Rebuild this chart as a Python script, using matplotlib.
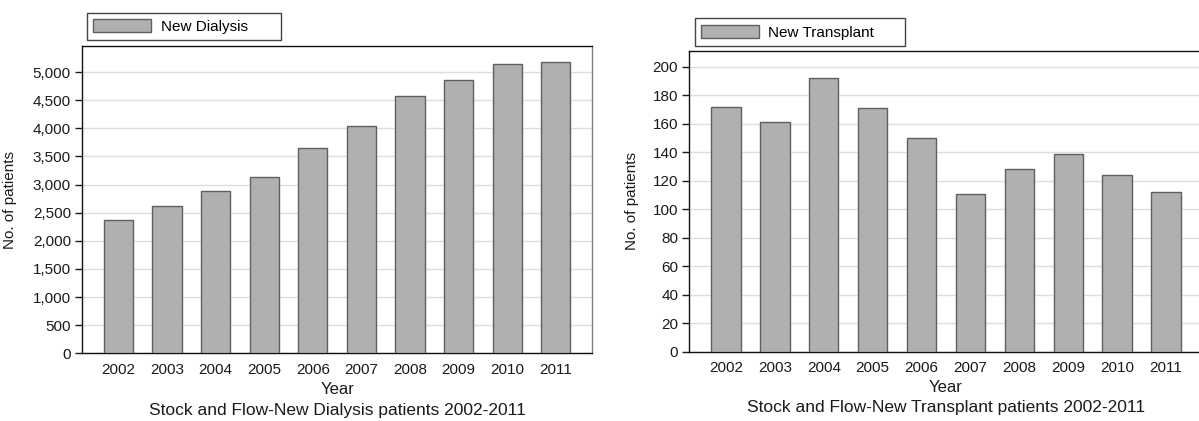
import matplotlib

matplotlib.use("Agg")
import matplotlib.pyplot as plt
from matplotlib.ticker import StrMethodFormatter


YEARS = ["2002", "2003", "2004", "2005", "2006", "2007", "2008", "2009", "2010", "2011"]
NEW_DIALYSIS = [2364, 2624, 2890, 3128, 3654, 4046, 4573, 4852, 5143, 5183]
NEW_TRANSPLANT = [172, 161, 192, 171, 150, 111, 128, 139, 124, 112]

DIALYSIS_TICKS = list(range(0, 5001, 500))
TRANSPLANT_TICKS = list(range(0, 201, 20))

BAR_COLOR = "#b0b0b0"
BAR_EDGE = "#5f5f5f"
GRID_COLOR = "#dedede"

plt.rcParams["font.family"] = ["Liberation Sans", "DejaVu Sans"]
plt.rcParams["font.size"] = 11


def draw_panel(fig, rect, values, ticks, ymax, label, title, legend_box, ylabel_x, fmt):
    ax = fig.add_axes(rect)
    x = list(range(len(YEARS)))
    ax.bar(x, values, width=0.6, color=BAR_COLOR, edgecolor=BAR_EDGE, linewidth=1.0,
           label=label, zorder=3)
    ax.set_xlim(-0.75, 9.75)
    ax.set_ylim(0, ymax)
    ax.set_xticks(x)
    ax.set_xticklabels(YEARS)
    ax.set_yticks(ticks)
    ax.yaxis.set_major_formatter(StrMethodFormatter(fmt))
    ax.tick_params(axis="x", length=0, pad=7, colors="#1a1a1a")
    ax.tick_params(axis="y", length=5, width=1.0, pad=3, colors="#1a1a1a")
    ax.grid(axis="y", color=GRID_COLOR, linewidth=1.0, zorder=0)
    ax.set_axisbelow(True)
    for side in ("left", "bottom", "top"):
        ax.spines[side].set_color("#111111")
        ax.spines[side].set_linewidth(1.0)
    ax.spines["right"].set_color("#808080")
    ax.spines["right"].set_linewidth(1.0)

    ax.set_ylabel("No. of patients", color="#1a1a1a")
    ax.yaxis.set_label_coords(ylabel_x, 0.5)
    ax.set_xlabel("Year", color="#1a1a1a", fontsize=12)
    ax.xaxis.set_label_coords(0.5, -0.118)
    ax.xaxis.label.set_va("center")
    ax.text(0.5, -0.187, title, transform=ax.transAxes, ha="center", va="center",
            color="#1a1a1a", fontsize=12.5)

    leg = ax.legend(loc="lower left", bbox_to_anchor=legend_box, bbox_transform=fig.transFigure,
                    mode="expand", borderaxespad=0, fancybox=False, framealpha=1,
                    handlelength=3.8, handleheight=1.0, handletextpad=0.6, borderpad=0.4)
    leg.get_frame().set_edgecolor("#444444")
    leg.get_frame().set_linewidth(1.0)
    return ax


fig = plt.figure(figsize=(11.99, 4.21), dpi=100)

draw_panel(fig, [0.0684, 0.1608, 0.4256, 0.7306], NEW_DIALYSIS, DIALYSIS_TICKS, 5470,
           "New Dialysis", "Stock and Flow-New Dialysis patients 2002-2011",
           (0.0728, 0.905, 0.1616, 0.05), -0.127, "{x:,.0f}")
draw_panel(fig, [0.5749, 0.1646, 0.4282, 0.7143], NEW_TRANSPLANT, TRANSPLANT_TICKS, 211,
           "New Transplant", "Stock and Flow-New Transplant patients 2002-2011",
           (0.5797, 0.8914, 0.1751, 0.05), -0.098, "{x:.0f}")

fig.savefig("out.png", dpi=100)
plt.close(fig)
